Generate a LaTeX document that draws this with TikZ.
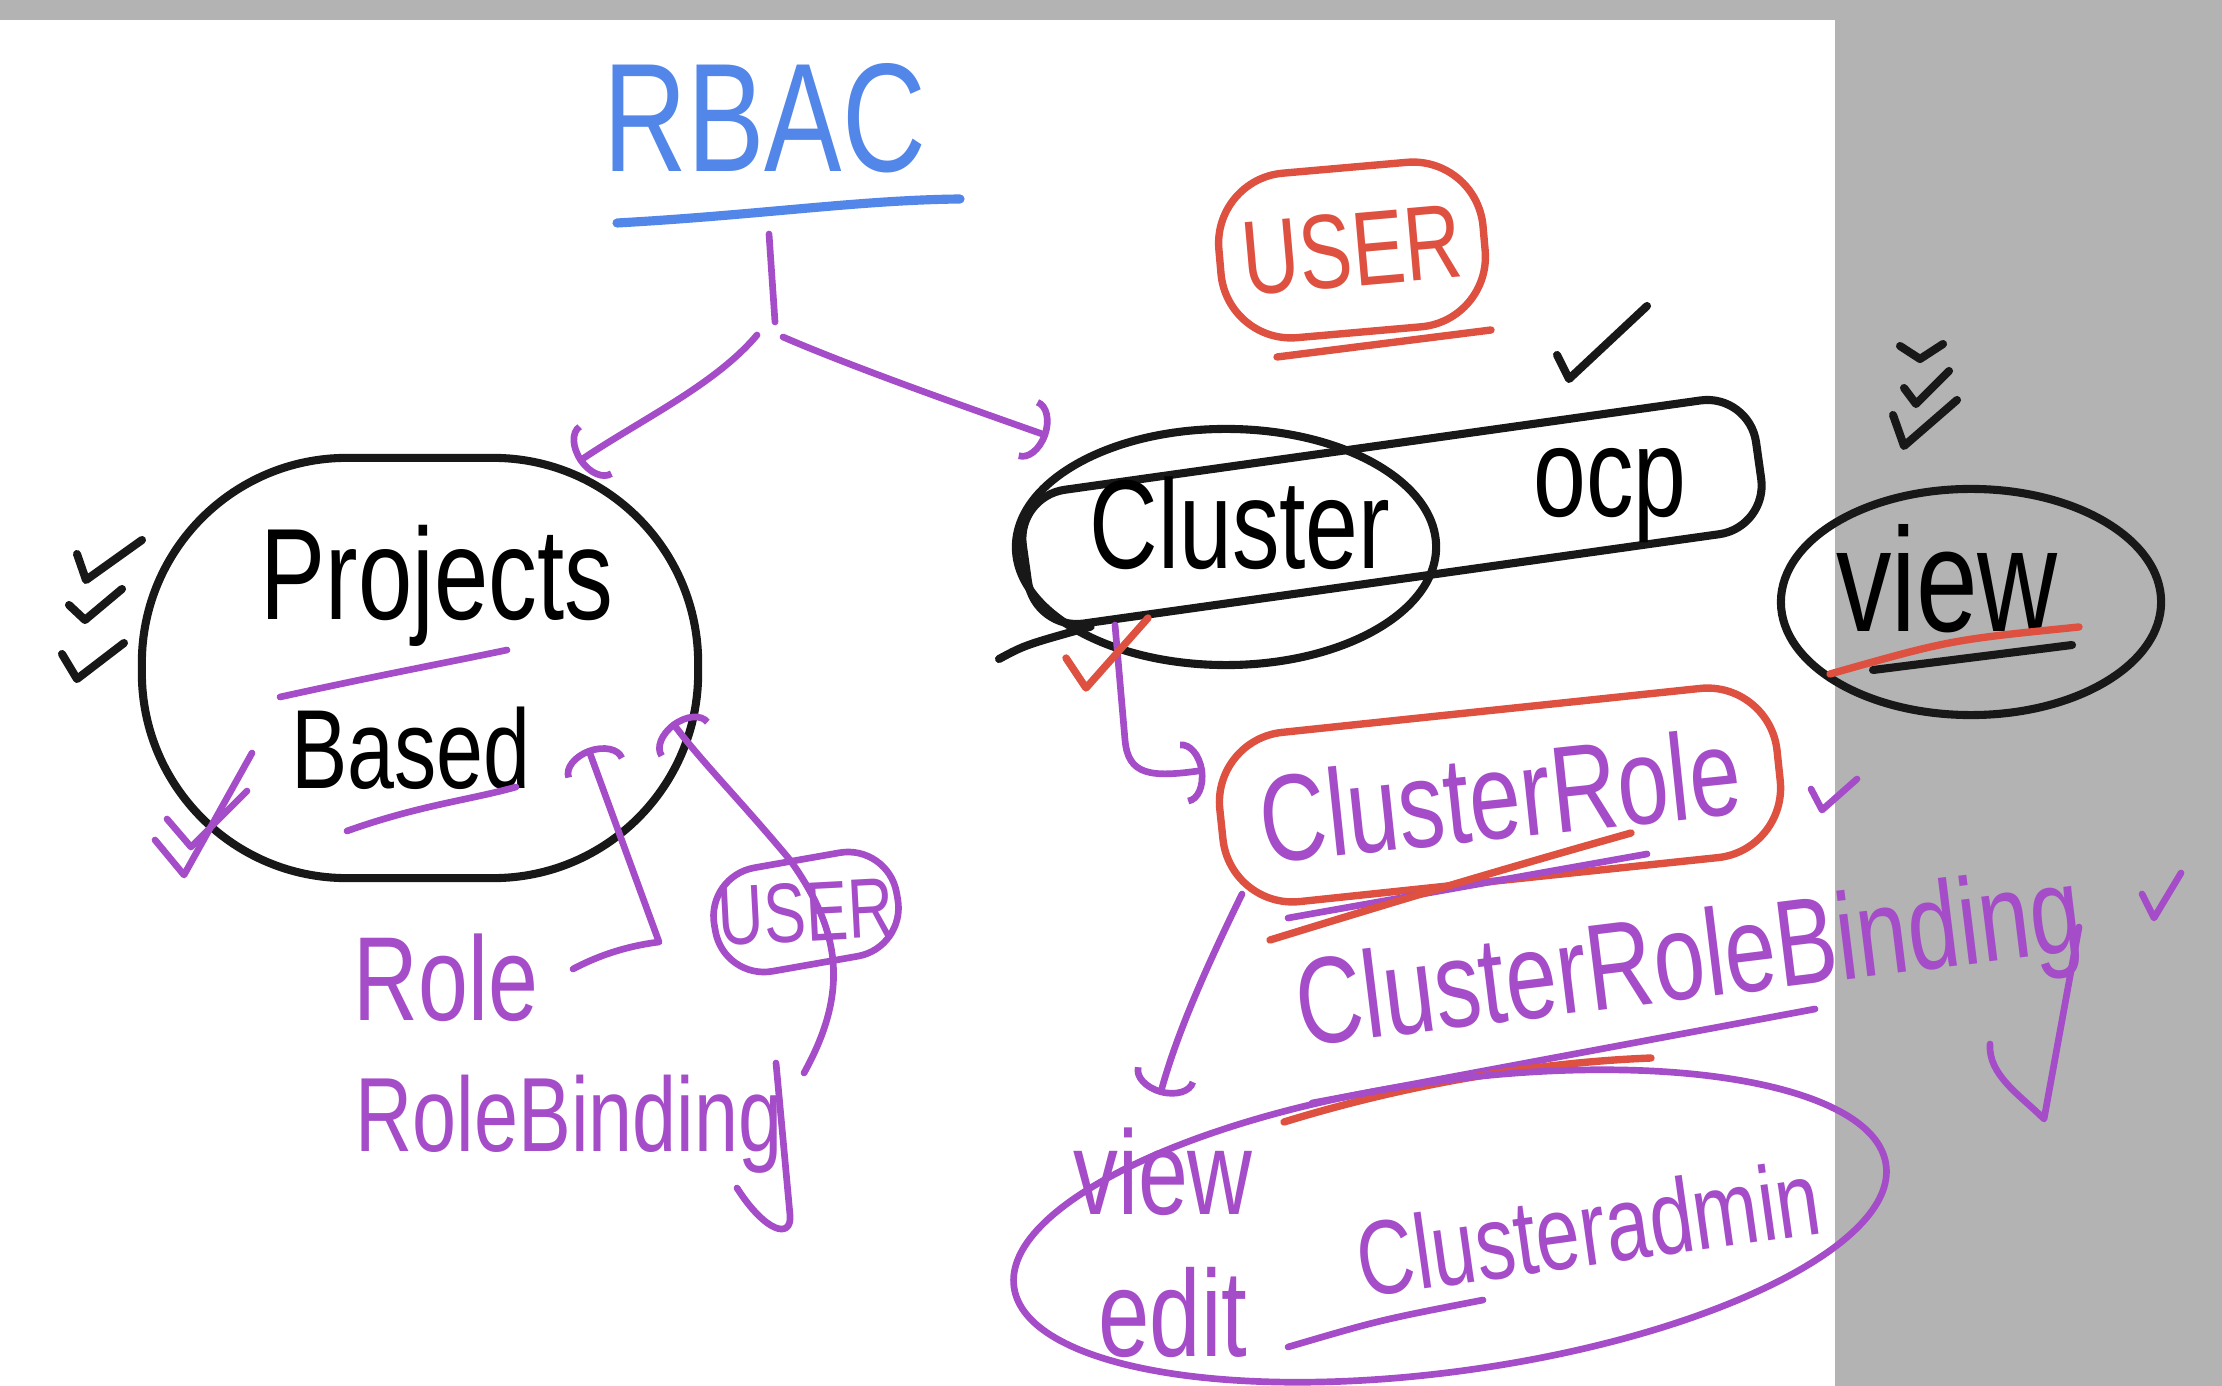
\documentclass[tikz,border=0pt]{standalone}
\usepackage{fontspec}
\usetikzlibrary{arrows.meta,shapes.geometric,calc}
\newfontfamily\hand[FakeStretch=0.75]{Liberation Sans}
\definecolor{inkblue}{RGB}{82,134,232}
\definecolor{inkpurple}{RGB}{165,76,200}
\definecolor{inkred}{RGB}{222,80,64}
\definecolor{inkblack}{RGB}{24,24,24}
\definecolor{sidegray}{RGB}{179,179,179}
\def\handsize#1{\hand\fontsize{#1}{#1}\selectfont}

\begin{document}
\begin{tikzpicture}[x=0.01cm, y=-0.01cm, line cap=round, line join=round]
    \tikzstyle{ink}=[line width=2.3pt]
    \tikzstyle{black ink}=[ink, draw=inkblack]
    \tikzstyle{purple ink}=[ink, draw=inkpurple, line width=1.9pt]
    \tikzstyle{red ink}=[ink, draw=inkred, line width=2.1pt]
    \tikzstyle{blue ink}=[ink, draw=inkblue, line width=2.6pt]
    \tikzstyle{word}=[inner sep=0pt]
    \tikzstyle{hook}=[-{Arc Barb[length=6pt,width=18pt]}]
    \tikzstyle{black ring}=[ellipse, black ink]
    \tikzstyle{purple ring}=[ellipse, purple ink]

    % Board and its gray margin
    \useasboundingbox (0,0) rectangle (2222,1386);
    \fill[white] (0,0) rectangle (2222,1386);
    \fill[sidegray] (0,0) rectangle (2222,20);
    \fill[sidegray] (1835,0) rectangle (2222,1386);

    % Title
    \node[word, text=inkblue, font=\handsize{44}] (rbac) at (765,118) {RBAC};
    \draw[blue ink] (617,223) .. controls (760,215) and (860,200) .. (960,199);

    % Left side: projects
    \node[black ink, rectangle, rounded corners=2.05cm, minimum width=5.56cm, minimum height=4.2cm] (projects) at (420,668) {};
    \node[word, font=\handsize{37}] (proj) at (437,586) {Projects};
    \node[word, font=\handsize{32}] (based) at (411,748) {Based};
    \draw[purple ink] (280,697) .. controls (380,675) and (450,662) .. (507,650);
    \draw[purple ink] (347,831) .. controls (420,805) and (470,800) .. (516,787);

    \node[word, text=inkpurple, font=\handsize{34}] (role) at (446,978) {Role};
    \node[word, text=inkpurple, font=\handsize{30}] (rolebinding) at (569,1124) {RoleBinding};
    \node[purple ink, rectangle, rounded corners=14pt, rotate=10, minimum width=1.85cm, minimum height=1.05cm] (user box) at (806,912) {};
    \node[word, text=inkpurple, font=\handsize{24}, rotate=3] (user left) at (user box) {USER};

    % Right side: cluster
    \node[red ink, rectangle, rounded corners=20pt, rotate=5, minimum width=2.65cm, minimum height=1.65cm,
          text=inkred, font=\handsize{30}] (user right) at (1352,250) {USER};
    \draw[red ink] (1277,357) -- (1491,330);

    \node[black ink, rectangle, rounded corners=14pt, rotate=8, minimum width=7.4cm, minimum height=1.35cm] (clusterbox) at (1392,512) {};
    \draw[black ink] ($(clusterbox.south west)!0.08!(clusterbox.south east)$) .. controls (1025,645) .. (999,659);
    \node[black ring, minimum width=4.2cm, minimum height=2.36cm] (clusterring) at (1226,547) {};
    \node[word, font=\handsize{36}] (cluster) at (1240,523) {Cluster};
    \node[word, font=\handsize{36}] (ocp) at (1610,496) {ocp};

    \node[black ring, minimum width=3.8cm, minimum height=2.26cm] (viewring) at (1971,602) {};
    \node[word, font=\handsize{42}] (view) at (1947,579) {view};
    \draw[black ink] (1873,670) -- (2072,645);
    \draw[red ink] (1830,674) .. controls (1950,640) .. (2079,627);

    \node[red ink, rectangle, rounded corners=0.7cm, rotate=6, minimum width=5.6cm, minimum height=1.7cm,
          text=inkpurple, font=\handsize{35}] (clusterrole) at (1500,795) {ClusterRole};
    \draw[purple ink] (1288,918) -- (1647,854);
    \draw[red ink] (1270,940) .. controls (1400,900) and (1500,870) .. (1631,833);

    \node[word, text=inkpurple, font=\handsize{35}, rotate=7] (crb) at (1690,967) {ClusterRoleBinding};
    \draw[purple ink] (1312,1103) -- (1815,1009);
    \draw[red ink] (1284,1122) .. controls (1420,1080) and (1550,1062) .. (1651,1058);

    \node[purple ring, rotate=8, minimum width=8.8cm, minimum height=2.9cm] (roles) at (1450,1226) {};
    \node[word, text=inkpurple, font=\handsize{34}] (view2) at (1163,1172) {view};
    \node[word, text=inkpurple, font=\handsize{35}] (edit) at (1173,1312) {edit};
    \node[word, text=inkpurple, font=\handsize{30}, rotate=8] (admin) at (1588,1228) {Clusteradmin};
    \draw[purple ink] (1288,1347) .. controls (1380,1320) .. (1483,1300);

    % Connectors
    \coordinate (stem) at (769,234);
    \coordinate (split) at (775,322);
    \coordinate (split left) at (757,335);
    \coordinate (split right) at (783,337);
    \coordinate (proj in) at (578,462);
    \coordinate (box in) at (1048,436);
    \draw[purple ink] (stem) -- (split);
    \draw[purple ink, hook] (split left) .. controls (715,385) and (640,420) .. (proj in);
    \draw[purple ink, hook] (split right) .. controls (850,366) and (957,404) .. (box in);

    \coordinate (role out) at (573,969);
    \coordinate (role in) at (588,748);
    \draw[purple ink, hook] (role out) .. controls (605,952) and (635,945) .. (659,942) -- (role in);

    \coordinate (rb up) at (804,1073);
    \coordinate (user in) at (672,722);
    \draw[purple ink, hook] (rb up) .. controls (850,990) and (840,930) .. (790,860)
        .. controls (740,800) and (700,760) .. (user in);
    \draw[purple ink] (776,1063) -- (790,1215) .. controls (792,1240) and (765,1232) .. (737,1188);

    \coordinate (cluster out) at (1115,625);
    \coordinate (cr in) at (1205,770);
    \draw[purple ink, hook] (cluster out) -- (1125,740) .. controls (1128,775) and (1150,778) .. (cr in);

    \coordinate (cr out) at (1242,894);
    \coordinate (roles in) at (1160,1095);
    \draw[purple ink, hook] (cr out) .. controls (1200,980) and (1175,1040) .. (roles in);

    \coordinate (crb tail) at (2044,1119);
    \draw[purple ink] (2079,927) -- (crb tail) .. controls (2020,1095) and (1988,1075) .. (1990,1044);

    % Check marks
    \foreach \ax/\ay/\bx/\by/\cx/\cy in {77/554/86/580/142/540, 69/605/85/620/122/589, 62/654/77/679/124/643,
        1557/355/1569/379/1647/306, 1900/346/1920/359/1943/344, 1904/388/1916/404/1949/371, 1893/415/1904/446/1957/400}
        \draw[black ink] (\ax,\ay) -- (\bx,\by) -- (\cx,\cy);
    \foreach \ax/\ay/\bx/\by/\cx/\cy in {155/840/184/875/252/753, 167/819/191/847/247/791,
        1811/789/1822/810/1857/779, 2142/894/2154/918/2181/873}
        \draw[purple ink] (\ax,\ay) -- (\bx,\by) -- (\cx,\cy);
    \draw[red ink] (1066,658) -- (1086,688) -- (1148,618);
\end{tikzpicture}
\end{document}
